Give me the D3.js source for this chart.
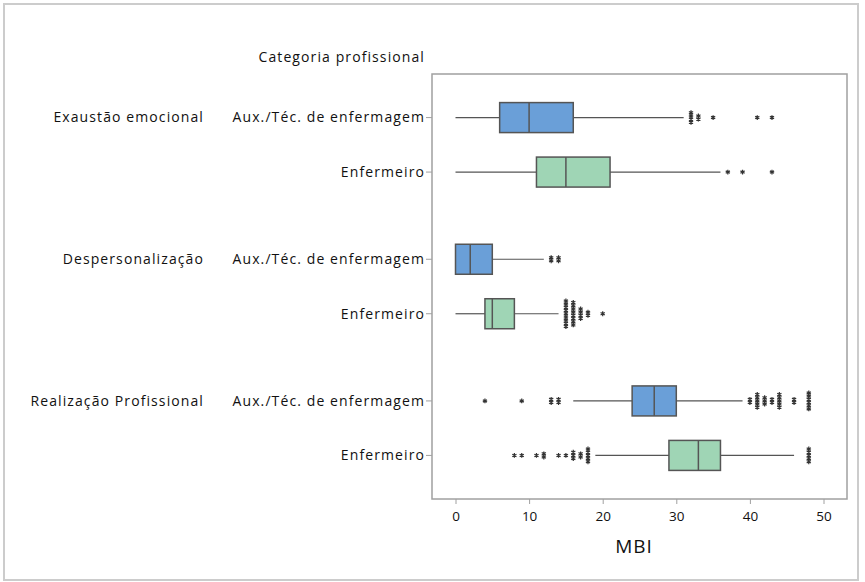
<!DOCTYPE html>
<html>
<head>
<meta charset="utf-8">
<script src="https://cdn.jsdelivr.net/npm/d3@7"></script>
<style>
  body { margin: 0; background: #fff; }
  text { font-family: "Open Sans", "Noto Sans", sans-serif; fill: #111; }
</style>
</head>
<body>
<script>
// Data
const groups = ['Exaustão emocional', 'Despersonalização', 'Realização Profissional']
const categories = ['Aux./Téc. de enfermagem', 'Enfermeiro']

// [whiskerLow, q1, median, q3, whiskerHigh]
const exaustaoAux = [0, 6, 10, 16, 31]
const exaustaoEnf = [0, 11, 15, 21, 36]
const despAux = [0, 0, 2, 5, 12]
const despEnf = [0, 4, 5, 8, 14]
const realAux = [16, 24, 27, 30, 39]
const realEnf = [19, 29, 33, 36, 46]

// outliers: [value, count]
const exaustaoAuxOut = [[32, 4], [33, 2], [35, 1], [41, 1], [43, 1]]
const exaustaoEnfOut = [[37, 1], [39, 1], [43, 1]]
const despAuxOut = [[13, 2], [14, 2]]
const despEnfOut = [[15, 9], [16, 8], [17, 4], [18, 2], [20, 1]]
const realAuxOut = [[4, 1], [9, 1], [13, 2], [14, 2], [40, 2], [41, 5], [42, 3], [43, 2], [44, 5], [46, 2], [48, 6]]
const realEnfOut = [[8, 1], [9, 1], [11, 1], [12, 2], [14, 1], [15, 1], [16, 3], [17, 2], [18, 5], [48, 5]]

const xTicks = [0, 10, 20, 30, 40, 50]

const rows = [
  { group: 0, cat: 0, stats: exaustaoAux, out: exaustaoAuxOut },
  { group: 0, cat: 1, stats: exaustaoEnf, out: exaustaoEnfOut },
  { group: 1, cat: 0, stats: despAux, out: despAuxOut },
  { group: 1, cat: 1, stats: despEnf, out: despEnfOut },
  { group: 2, cat: 0, stats: realAux, out: realAuxOut },
  { group: 2, cat: 1, stats: realEnf, out: realEnfOut }
]

const colors = ['#6a9fd8', '#9fd5b5']

const W = 865, H = 582
const plot = { left: 432, right: 847, top: 74, bottom: 499 }
const labelFont = '14px'
const labelSpacing = '1.1px'

const svg = d3.select('body').append('svg')
  .attr('width', W).attr('height', H)

// outer frame
svg.append('rect')
  .attr('x', 4).attr('y', 4).attr('width', 854).attr('height', 576)
  .attr('fill', 'none').attr('stroke', '#cccccc').attr('stroke-width', 2)

const x = d3.scaleLinear().domain([0, 50]).range([455.5, 823.5])

// row position: index within group plus a gap between groups
const gap = 1.6
const rowPos = r => r.group * gap + r.group + r.cat
const y = d3.scaleLinear().domain([-0.8, 7.0]).range([plot.top, plot.bottom])

// plot frame
svg.append('rect')
  .attr('x', plot.left).attr('y', plot.top)
  .attr('width', plot.right - plot.left).attr('height', plot.bottom - plot.top)
  .attr('fill', 'none').attr('stroke', '#a0a0a0').attr('stroke-width', 1.5)

// x axis
const xAxis = svg.append('g')
  .attr('transform', `translate(0,${plot.bottom})`)
  .call(d3.axisBottom(x).tickValues(xTicks).tickSize(5).tickPadding(7))
xAxis.select('.domain').remove()
xAxis.selectAll('line').attr('stroke', '#a0a0a0')
xAxis.selectAll('text').style('font-size', '13.5px').attr('fill', '#111')
  .style('font-family', '"Open Sans", sans-serif')

svg.append('text')
  .attr('x', 634).attr('y', 553)
  .attr('text-anchor', 'middle')
  .style('font-size', '19px')
  .style('letter-spacing', '1px')
  .text('MBI')

// y labels
svg.append('text')
  .attr('x', 425).attr('y', 62)
  .attr('text-anchor', 'end')
  .style('font-size', labelFont).style('letter-spacing', labelSpacing)
  .text('Categoria profissional')

const boxH = 30

rows.forEach(r => {
  const cy = y(rowPos(r))
  const [lo, q1, med, q3, hi] = r.stats

  svg.append('line')
    .attr('x1', plot.left - 6).attr('x2', plot.left)
    .attr('y1', cy).attr('y2', cy)
    .attr('stroke', '#a0a0a0')

  svg.append('text')
    .attr('x', 425).attr('y', cy).attr('dy', '0.35em')
    .attr('text-anchor', 'end')
    .style('font-size', labelFont).style('letter-spacing', labelSpacing)
    .text(categories[r.cat])

  if (r.cat === 0) {
    svg.append('text')
      .attr('x', 204).attr('y', cy).attr('dy', '0.35em')
      .attr('text-anchor', 'end')
      .style('font-size', labelFont).style('letter-spacing', labelSpacing)
      .text(groups[r.group])
  }

  // whiskers
  svg.append('line')
    .attr('x1', x(lo)).attr('x2', x(q1)).attr('y1', cy).attr('y2', cy)
    .attr('stroke', '#555').attr('stroke-width', 1.2)
  svg.append('line')
    .attr('x1', x(q3)).attr('x2', x(hi)).attr('y1', cy).attr('y2', cy)
    .attr('stroke', '#555').attr('stroke-width', 1.2)

  // box
  svg.append('rect')
    .attr('x', x(q1)).attr('y', cy - boxH / 2)
    .attr('width', x(q3) - x(q1)).attr('height', boxH)
    .attr('fill', colors[r.cat]).attr('stroke', '#555').attr('stroke-width', 1.5)
  svg.append('line')
    .attr('x1', x(med)).attr('x2', x(med))
    .attr('y1', cy - boxH / 2).attr('y2', cy + boxH / 2)
    .attr('stroke', '#555').attr('stroke-width', 1.5)

  // outliers, stacked when repeated
  const sym = d3.symbol().type(d3.symbolAsterisk).size(16)
  r.out.forEach(([v, n]) => {
    for (let i = 0; i < n; i++) {
      const oy = cy + (i - (n - 1) / 2) * 3.2
      svg.append('path')
        .attr('d', sym())
        .attr('transform', `translate(${x(v)},${oy})`)
        .attr('fill', 'none').attr('stroke', '#333').attr('stroke-width', 1.2)
    }
  })
})
</script>
</body>
</html>
